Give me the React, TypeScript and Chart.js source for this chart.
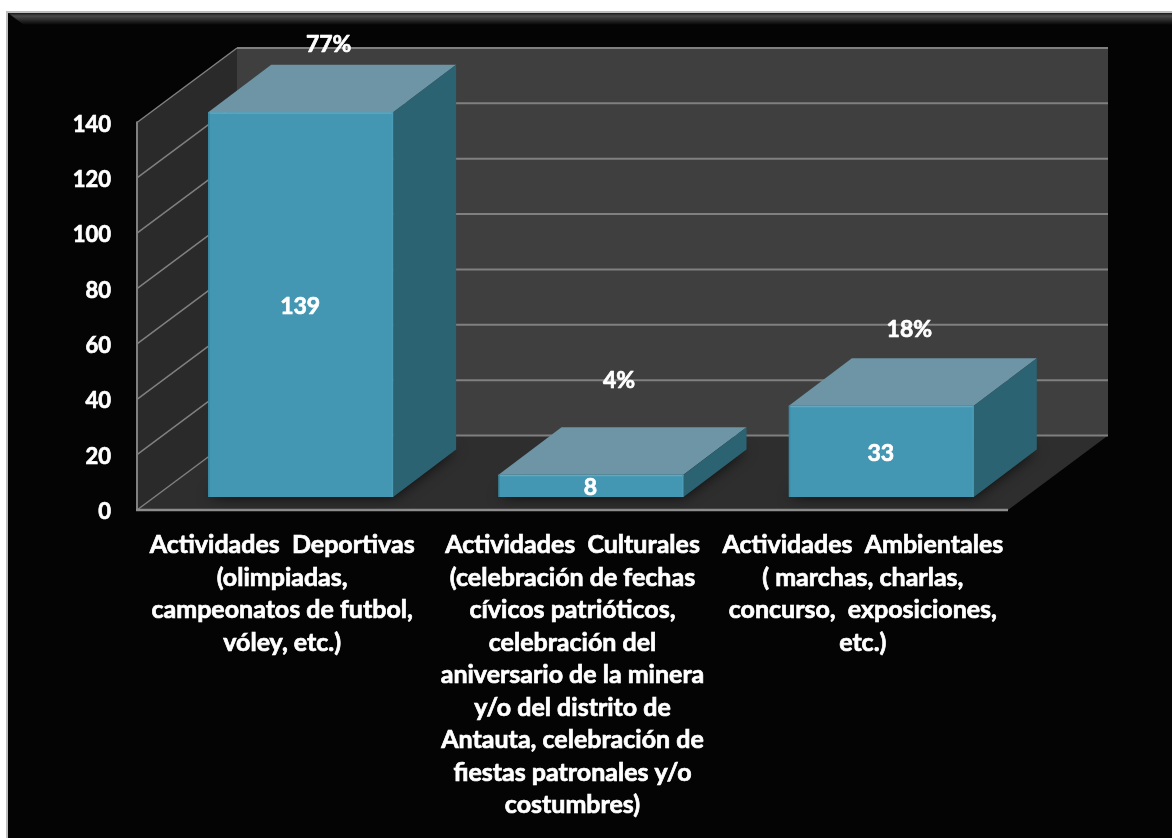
import React, { useEffect, useRef } from "react";
import { Chart, registerables } from "chart.js";

Chart.register(...registerables);

const categories: string[][] = [
  ["Actividades  Deportivas", "(olimpiadas,", "campeonatos de futbol,", "vóley, etc.)"],
  ["Actividades  Culturales", "(celebración de fechas", "cívicos patrióticos,", "celebración del", "aniversario de la minera", "y/o del distrito de", "Antauta, celebración de", "fiestas patronales y/o", "costumbres)"],
  ["Actividades  Ambientales", "( marchas, charlas,", "concurso,  exposiciones,", "etc.)"],
];
const values = [139, 8, 33];
const percentLabels = ["77%", "4%", "18%"];
const percentLift = [68, 94, 76];

const FONT = "Lato";
const WALL = { dx: 100, dy: -74.5 };
const BAR_OFFSET = { dx: 18.5, dy: -13 };
const BAR_DEPTH = { dx: 63, dy: -47.5 };

function poly(ctx: CanvasRenderingContext2D, pts: number[][], fill: string) {
  ctx.beginPath();
  pts.forEach((p, i) => (i ? ctx.lineTo(p[0], p[1]) : ctx.moveTo(p[0], p[1])));
  ctx.closePath();
  ctx.fillStyle = fill;
  ctx.fill();
}

function line(ctx: CanvasRenderingContext2D, x1: number, y1: number, x2: number, y2: number, w: number, c: string) {
  ctx.beginPath();
  ctx.moveTo(x1, y1);
  ctx.lineTo(x2, y2);
  ctx.lineWidth = w;
  ctx.strokeStyle = c;
  ctx.stroke();
}

function label(ctx: CanvasRenderingContext2D, text: string, x: number, y: number) {
  ctx.lineWidth = 0.7;
  ctx.strokeStyle = "#ffffff";
  ctx.lineJoin = "round";
  ctx.strokeText(text, x, y);
  ctx.fillText(text, x, y);
}

const scenePlugin = {
  id: "scene",
  beforeDraw(chart: any) {
    const { ctx, width, height, chartArea: a, scales } = chart;
    // digits sit a little low in the reference: nudge the value-axis labels
    scales.y.getLabelItems(a).forEach((it: any) => {
      if (!it.options.__nudged) {
        it.options.translation = [it.options.translation[0], it.options.translation[1] + 2];
        it.options.__nudged = true;
      }
    });
    ctx.save();
    ctx.fillStyle = "#ffffff";
    ctx.fillRect(0, 0, width, height);
    ctx.fillStyle = "#bdbdbd";
    ctx.fillRect(6, 11, width, height);
    ctx.fillStyle = "#040404";
    ctx.fillRect(8, 13, width, height);
    const g = ctx.createLinearGradient(0, 13, 0, 25);
    g.addColorStop(0, "#1a1a1a");
    g.addColorStop(0.25, "#4a4a4a");
    g.addColorStop(1, "#040404");
    ctx.fillStyle = g;
    ctx.beginPath();
    ctx.moveTo(8, 13);
    ctx.lineTo(width, 13);
    ctx.lineTo(width, 25);
    ctx.lineTo(24, 25);
    ctx.closePath();
    ctx.fill();

    const { left: l, right: r, top: t, bottom: b } = a;
    const { dx, dy } = WALL;
    poly(ctx, [[l + dx, t + dy], [r + dx, t + dy], [r + dx, b + dy], [l + dx, b + dy]], "#3f3f3f");
    poly(ctx, [[l, t], [l + dx, t + dy], [l + dx, b + dy], [l, b]], "#2a2a2a");
    poly(ctx, [[l, b], [l + dx, b + dy], [r + dx, b + dy], [r, b]], "#2e2e2e");

    const grid = "#808080";
    scales.y.ticks.forEach((tk: any) => {
      const y = scales.y.getPixelForValue(tk.value);
      line(ctx, l + dx, y + dy, r + dx, y + dy, 2, grid);
      line(ctx, l, y, l + dx, y + dy, 1.5, grid);
    });
    line(ctx, l, t - 1, l, b + 1, 2, grid);
    line(ctx, l - 1, b, r, b, 2.5, "#8c8c8c");
    ctx.restore();
  },
  beforeDatasetsDraw(chart: any) {
    const { ctx, chartArea: a } = chart;
    const bars = chart.getDatasetMeta(0).data;
    const { dx, dy } = BAR_DEPTH;
    ctx.save();
    ctx.save();
    ctx.beginPath();
    ctx.moveTo(a.left, a.bottom);
    ctx.lineTo(a.left + WALL.dx, a.bottom + WALL.dy);
    ctx.lineTo(a.right + WALL.dx, a.bottom + WALL.dy);
    ctx.lineTo(a.right, a.bottom);
    ctx.closePath();
    ctx.clip();
    bars.forEach((bar: any) => {
      const x0 = bar.x - bar.width / 2 + BAR_OFFSET.dx;
      const x1 = bar.x + bar.width / 2 + BAR_OFFSET.dx;
      const y0 = bar.base + BAR_OFFSET.dy;
      ctx.shadowColor = "rgba(0,0,0,0.75)";
      ctx.shadowBlur = 14;
      poly(ctx, [[x0, y0], [x1, y0], [x1 + dx, y0 + dy], [x0 + dx, y0 + dy]], "#1c1c1c");
    });
    ctx.restore();

    bars.forEach((bar: any) => {
      const x0 = bar.x - bar.width / 2 + BAR_OFFSET.dx;
      const x1 = bar.x + bar.width / 2 + BAR_OFFSET.dx;
      const yt = bar.y + BAR_OFFSET.dy;
      const yb = bar.base + BAR_OFFSET.dy;
      poly(ctx, [[x0, yt], [x1, yt], [x1 + dx, yt + dy], [x0 + dx, yt + dy]], "#6e95a5");
      poly(ctx, [[x1, yt], [x1 + dx, yt + dy], [x1 + dx, yb + dy], [x1, yb]], "#2b6373");
    });
    ctx.restore();
    ctx.save();
    ctx.translate(BAR_OFFSET.dx, BAR_OFFSET.dy);
  },
  afterDatasetsDraw(chart: any) {
    const { ctx } = chart;
    ctx.restore();
    const bars = chart.getDatasetMeta(0).data;
    ctx.save();
    bars.forEach((bar: any, i: number) => {
      const x0 = bar.x - bar.width / 2 + BAR_OFFSET.dx;
      const x1 = bar.x + bar.width / 2 + BAR_OFFSET.dx;
      const yt = bar.y + BAR_OFFSET.dy;
      const yb = bar.base + BAR_OFFSET.dy;
      line(ctx, x0, yt + 0.75, x1, yt + 0.75, 1.5, "#62a8c0");
      line(ctx, x0 + 0.75, yt, x0 + 0.75, yb, 1.5, "#3a8aa4");
      line(ctx, x1 - 0.75, yt, x1 - 0.75, yb, 1.5, "#4c9cb7");
      ctx.fillStyle = "#ffffff";
      ctx.font = `bold 23px ${FONT}`;
      ctx.textAlign = "center";
      ctx.textBaseline = "middle";
      label(ctx, String(values[i]), (x0 + x1) / 2 - 0.5, (yt + yb) / 2 + 2);
      label(ctx, percentLabels[i], (x0 + x1) / 2 + 28, yt - percentLift[i]);
    });
    ctx.restore();
  },
};

export default function App() {
  const ref = useRef<HTMLCanvasElement>(null);
  useEffect(() => {
    const chart = new Chart(ref.current as HTMLCanvasElement, {
      type: "bar",
      data: {
        labels: categories,
        datasets: [
          {
            data: values,
            backgroundColor: "#4397b2",
            borderWidth: 0,
            barPercentage: 0.637,
            categoryPercentage: 1,
            clip: false,
          } as any,
        ],
      },
      options: {
        responsive: false,
        animation: false,
        layout: { padding: { left: 0, right: 164, top: 122.5, bottom: 0 } },
        plugins: { legend: { display: false }, tooltip: { enabled: false } },
        scales: {
          x: {
            afterFit: (s: any) => {
              s.height = 328;
            },
            grid: { display: false, drawTicks: false },
            border: { display: false },
            ticks: {
              color: "#ffffff",
              font: { family: FONT, weight: "bold", size: 25, lineHeight: 1.3 },
              textStrokeColor: "#ffffff",
              textStrokeWidth: 0.7,
              padding: 19,
              maxRotation: 0,
              minRotation: 0,
              autoSkip: false,
            },
          },
          y: {
            min: 0,
            max: 140,
            afterFit: (s: any) => {
              s.width = 137;
            },
            grid: { display: false, drawTicks: false },
            border: { display: false },
            ticks: {
              stepSize: 20,
              color: "#ffffff",
              font: { family: FONT, weight: "bold", size: 22 },
              textStrokeColor: "#ffffff",
              textStrokeWidth: 0.7,
              padding: 26,
            },
          },
        },
      },
      plugins: [scenePlugin],
    } as any);
    return () => chart.destroy();
  }, []);
  return (
    <canvas
      ref={ref}
      width={1172}
      height={838}
      style={{ position: "absolute", left: 0, top: 0, width: 1172, height: 838, display: "block" }}
    />
  );
}
